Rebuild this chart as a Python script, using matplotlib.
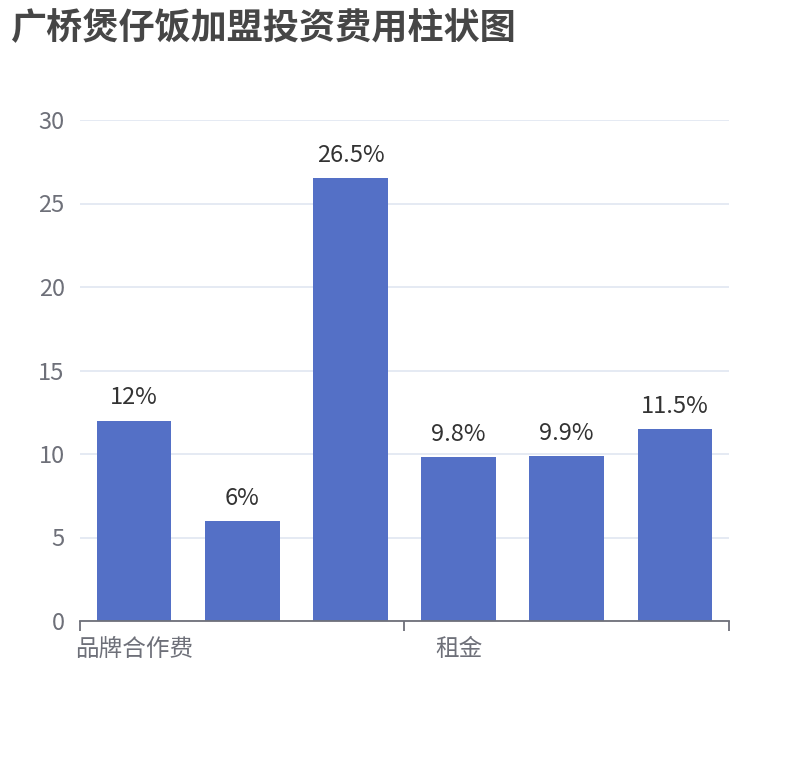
import matplotlib
matplotlib.use("Agg")
import matplotlib.pyplot as plt

plt.rcParams['font.family'] = ['Noto Sans CJK SC', 'DejaVu Sans']

title = "广桥煲仔饭加盟投资费用柱状图"
categories = ["品牌合作费", "装修费", "设备费", "租金", "人员工资", "流动资金"]
values = [12, 6, 26.5, 9.8, 9.9, 11.5]
yticks = [0, 5, 10, 15, 20, 25, 30]

fig = plt.figure(figsize=(8.1, 7.6), dpi=100)
ax = fig.add_axes([80/810, 1-621/760, (729-80)/810, (621-120)/760])

x = list(range(len(categories)))
bars = ax.bar(x, values, width=0.69, color="#5470C6", zorder=3)
ax.bar_label(bars, labels=[f"{v:g}%" for v in values], padding=8,
             fontsize=17, color="#333333")

ax.set_xlim(-0.5, len(categories) - 0.5)
ax.set_ylim(0, 30)
ax.set_yticks(yticks)
ax.set_yticklabels([str(t) for t in yticks], fontsize=17, color="#6E7079")
ax.tick_params(axis='y', length=0, pad=11)
ax.yaxis.grid(True, color="#E0E6F1", linewidth=1.2, zorder=0)

# boundary ticks every 3 categories, labels on every 3rd category
ax.set_xticks([-0.5, 2.5, 5.5])
ax.set_xticklabels(["", "", ""])
ax.tick_params(axis='x', which='major', length=7, width=1.3, color="#6E7079")
ax.set_xticks([0, 3], minor=True)
ax.set_xticklabels(categories[::3], minor=True, fontsize=17, color="#6E7079")
ax.tick_params(axis='x', which='minor', length=0, pad=12)

for s in ["left", "right", "top"]:
    ax.spines[s].set_visible(False)
ax.spines["bottom"].set_color("#6E7079")
ax.spines["bottom"].set_linewidth(1.3)
ax.spines["bottom"].set_zorder(4)

fig.text(10/810, 1-10/760, title, fontsize=26, fontweight="bold",
         color="#464646", ha="left", va="top")

fig.savefig("out.png", dpi=100)
